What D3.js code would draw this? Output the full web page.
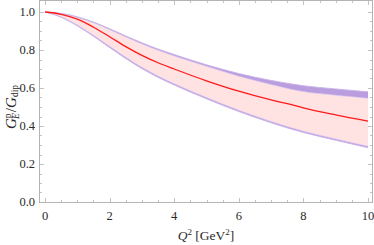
<!DOCTYPE html>
<html><head><meta charset="utf-8">
<script src="https://cdn.jsdelivr.net/npm/d3@7"></script>
<style>body{margin:0;background:#fff}svg{display:block}</style>
</head><body>
<svg id="c" width="374" height="245"></svg>
<script>
const Q       = [0, 0.5, 1, 1.5, 2, 2.5, 3, 3.5, 4, 5, 6, 7, 7.6, 8, 9, 10];
const central = [1.0, 0.988, 0.962, 0.920, 0.870, 0.818, 0.772, 0.733, 0.700, 0.638, 0.583, 0.537, 0.514, 0.496, 0.459, 0.426];
const upperOut= [1.0, 0.993, 0.975, 0.947, 0.912, 0.874, 0.838, 0.805, 0.776, 0.722, 0.676, 0.640, 0.622, 0.612, 0.595, 0.580];
const upperIn = [1.0, 0.990, 0.971, 0.943, 0.907, 0.869, 0.832, 0.799, 0.769, 0.714, 0.662, 0.618, 0.594, 0.581, 0.562, 0.546];
const lowerIn = [1.0, 0.975, 0.932, 0.878, 0.820, 0.762, 0.709, 0.663, 0.623, 0.550, 0.483, 0.424, 0.392, 0.373, 0.332, 0.293];
const lowerOut= [1.0, 0.972, 0.927, 0.872, 0.813, 0.755, 0.702, 0.656, 0.616, 0.543, 0.476, 0.417, 0.385, 0.366, 0.325, 0.286];
const xTicks = [0, 2, 4, 6, 8, 10];
const yTicks = [0.0, 0.2, 0.4, 0.6, 0.8, 1.0];

const svg = d3.select("#c");
const L = 39.5, R = 372.5, T = 0.5, B = 202.5;
const x = d3.scaleLinear().domain([0, 10]).range([45, 368]);
const y = d3.scaleLinear().domain([0, 1]).range([202, 12]);

const pts = (a) => Q.map((q, i) => [q, a[i]]);
const curve = d3.curveMonotoneX;
const band = (lo, hi) => d3.area().curve(curve).x((d, i) => x(Q[i])).y0((d, i) => y(lo[i])).y1((d, i) => y(hi[i]))(Q);
const line = d3.line().curve(curve).x(d => x(d[0])).y(d => y(d[1]));

svg.append("path").attr("d", band(lowerIn, upperIn)).attr("fill", "#ffe3e3");
svg.append("path").attr("d", band(upperIn, upperOut)).attr("fill", "#b99ddf");
svg.append("path").attr("d", band(lowerOut, lowerIn)).attr("fill", "#b99ddf");
svg.append("path").attr("d", line(pts(upperOut))).attr("fill", "none").attr("stroke", "#c7b0e8").attr("stroke-width", 0.9);
svg.append("path").attr("d", line(pts(upperIn))).attr("fill", "none").attr("stroke", "#d6c2ec").attr("stroke-width", 0.6);
svg.append("path").attr("d", line(pts(lowerOut))).attr("fill", "none").attr("stroke", "#c7b0e8").attr("stroke-width", 0.9);
svg.append("path").attr("d", line(pts(lowerIn))).attr("fill", "none").attr("stroke", "#d6c2ec").attr("stroke-width", 0.6);
svg.append("path").attr("d", line(pts(central))).attr("fill", "none").attr("stroke", "#ff1a1a").attr("stroke-width", 1.3);

const fc = "#b4b4b4";
svg.append("rect").attr("x", L).attr("y", T).attr("width", R - L).attr("height", B - T)
  .attr("fill", "none").attr("stroke", fc).attr("stroke-width", 1);

const g = svg.append("g").attr("stroke", fc).attr("stroke-width", 0.8);
d3.range(0, 10.01, 0.5).forEach(v => {
  const major = Math.abs(v / 2 - Math.round(v / 2)) < 1e-6;
  const len = major ? 4.5 : 2.5;
  const px = Math.round(x(v)) + 0.5;
  g.append("line").attr("x1", px).attr("x2", px).attr("y1", B).attr("y2", B - len);
  g.append("line").attr("x1", px).attr("x2", px).attr("y1", T).attr("y2", T + len);
});
d3.range(0, 1.001, 0.05).forEach(v => {
  const major = Math.abs(v / 0.2 - Math.round(v / 0.2)) < 1e-6;
  const len = major ? 4.5 : 2.5;
  const py = Math.round(y(v)) + 0.5;
  g.append("line").attr("x1", L).attr("x2", L + len).attr("y1", py).attr("y2", py);
  g.append("line").attr("x1", R).attr("x2", R - len).attr("y1", py).attr("y2", py);
});

const font = "'Liberation Serif', 'DejaVu Serif', serif";
const tc = "#2a2a2a";
svg.append("g").selectAll("text").data(xTicks).join("text")
  .attr("x", d => x(d)).attr("y", 220).attr("text-anchor", "middle")
  .attr("font-family", font).attr("font-size", 12.5).attr("fill", tc).text(d => d);
svg.append("g").selectAll("text").data(yTicks).join("text")
  .attr("x", 35).attr("y", d => y(d) + 4.3).attr("text-anchor", "end")
  .attr("font-family", font).attr("font-size", 12.5).attr("fill", tc).text(d => d.toFixed(1));

const xl = svg.append("text").attr("x", 206).attr("y", 240).attr("text-anchor", "middle")
  .attr("font-family", font).attr("font-size", 13.5).attr("fill", tc);
xl.append("tspan").attr("font-style", "italic").text("Q");
xl.append("tspan").attr("font-size", 9).attr("dy", -5).text("2");
xl.append("tspan").attr("dy", 5).text(" [GeV");
xl.append("tspan").attr("font-size", 9).attr("dy", -5).text("2");
xl.append("tspan").attr("dy", 5).text("]");

const yl = svg.append("text").attr("transform", "translate(16,107) rotate(-90)").attr("text-anchor", "middle")
  .attr("font-family", font).attr("font-size", 15).attr("fill", tc);
yl.append("tspan").attr("font-style", "italic").text("G");
yl.append("tspan").attr("font-size", 9.5).attr("dy", -5.5).text("p");
yl.append("tspan").attr("font-size", 9.5).attr("font-style", "italic").attr("dy", 8).attr("dx", -5.5).text("E");
yl.append("tspan").attr("dy", -2.5).attr("dx", 1).text("/");
yl.append("tspan").attr("font-style", "italic").text("G");
yl.append("tspan").attr("font-size", 9.5).attr("dy", 2).text("dip");
</script>
</body></html>
